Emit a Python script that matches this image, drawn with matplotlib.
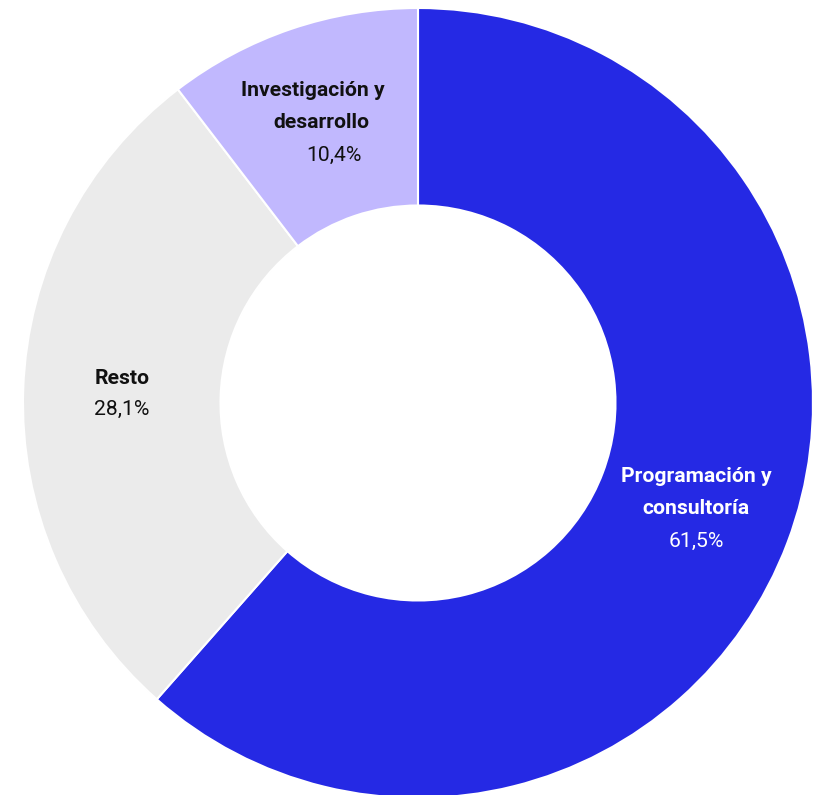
import matplotlib.pyplot as plt

# shares of the sector, clockwise from 12 o'clock
sectors = [['Programación y', 'consultoría'], ['Resto'], ['Investigación y', 'desarrollo']]
shares = [61.5, 28.1, 10.4]
share_labels = ['61,5%', '28,1%', '10,4%']
colors = ['#2529E4', '#EBEBEB', '#C1B8FE']
text_colors = ['white', '#111111', '#111111']

plt.rcParams['font.family'] = ['Roboto', 'DejaVu Sans']

W, H = 826, 795
fig = plt.figure(figsize=(W / 100, H / 100), dpi=100)
ax = fig.add_axes([0, 0, 1, 1])

cx, cy, r = 418, H - 403, 395
ax.pie(shares, colors=colors, startangle=90, counterclock=False,
       center=(cx, cy), radius=r, frame=True,
       wedgeprops=dict(width=r * 0.5, edgecolor='white', linewidth=1.5))
ax.set_xlim(0, W)
ax.set_ylim(0, H)
ax.set_aspect('equal')
ax.axis('off')

# label anchors: x of each line, y of first line (pixels from the top)
name_x = [[696, 696], [122], [313, 321]]
name_y = [477, 378, 91]
value_x = [696, 122, 334]
step = 32
fs = 15.2
for lines, xs, y0, val, vx, tc in zip(sectors, name_x, name_y, share_labels, value_x, text_colors):
    for i, (line, x) in enumerate(zip(lines, xs)):
        ax.text(x, H - (y0 + i * step), line, ha='center', va='center', fontsize=fs,
                fontweight='bold', color=tc)
    ax.text(vx, H - (y0 + len(lines) * (step if len(lines) > 1 else 31)), val,
            ha='center', va='center', fontsize=fs, color=tc)

fig.savefig('out.png', dpi=100)
